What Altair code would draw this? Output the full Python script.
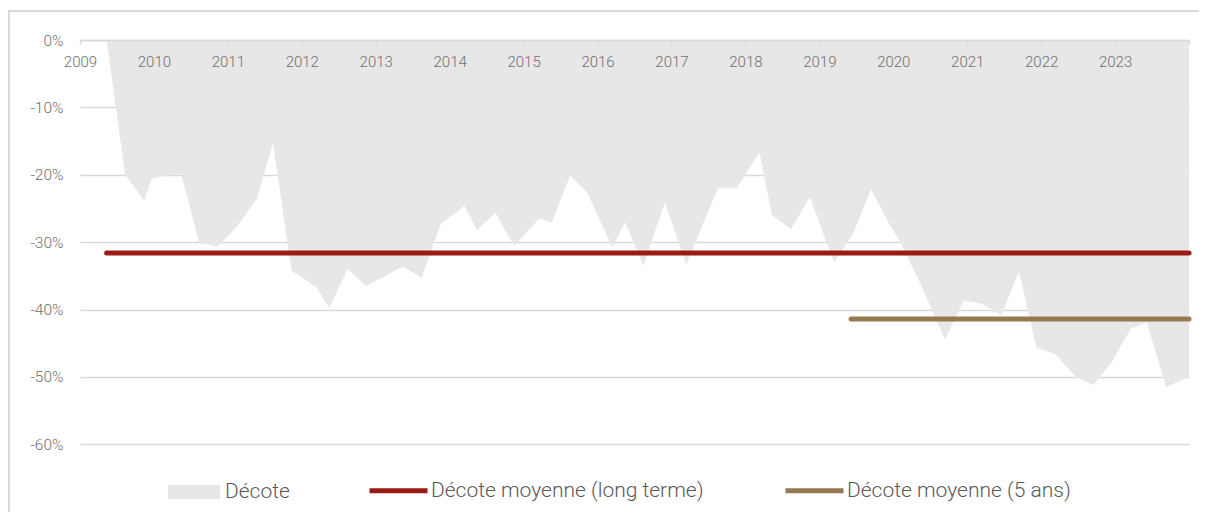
import altair as alt
import pandas as pd

# ---- data ----
years = [2009.36, 2009.61, 2009.87, 2009.97, 2010.17, 2010.37,
         2010.61, 2010.86, 2011.12, 2011.39, 2011.61,
         2011.86, 2012.20, 2012.37, 2012.62, 2012.87,
         2013.37, 2013.62, 2013.88, 2014.20, 2014.37,
         2014.62, 2014.87, 2015.21, 2015.38, 2015.63,
         2015.86, 2016.20, 2016.37, 2016.62, 2016.91,
         2017.20, 2017.63, 2017.88, 2018.19, 2018.36,
         2018.62, 2018.87, 2019.20, 2019.45, 2019.70,
         2019.94, 2020.09, 2020.36, 2020.70, 2020.95,
         2021.19, 2021.46, 2021.70, 2021.94, 2022.19,
         2022.46, 2022.70, 2022.96, 2023.21, 2023.43,
         2023.69, 2024.00]
decote = [0.0, -20.0, -23.8, -20.6, -20.1, -19.9,
          -30.0, -30.7, -27.7, -23.6, -15.3,
          -34.2, -36.7, -39.8, -34.0, -36.5,
          -33.6, -35.3, -27.3, -24.6, -28.2,
          -25.6, -30.6, -26.5, -27.1, -20.1,
          -22.6, -30.8, -27.0, -33.5, -24.1,
          -33.3, -22.0, -22.0, -16.7, -26.0,
          -28.1, -23.3, -33.0, -28.9, -22.2,
          -27.2, -29.9, -36.0, -44.5, -38.7,
          -39.1, -40.8, -34.4, -45.7, -46.6,
          -49.9, -51.2, -47.7, -42.9, -41.9,
          -51.5, -50.0]

mean_names = ["Décote moyenne (long terme)", "Décote moyenne (5 ans)"]
mean_start = [2009.36, 2019.43]
mean_end = [2024.0, 2024.0]
mean_value = [-31.6, -41.4]
mean_colors = ["#9a1a14", "#957a4f"]

area_name = "Décote"
area_color = "#e7e7e7"

y_ticks = [0, -10, -20, -30, -40, -50, -60]
x_ticks = list(range(2009, 2025))

W, H = 1109, 438
FONT = "Roboto"
GRID = "#d9d9d9"
LABEL = "#707070"

area_df = pd.DataFrame({"annee": years, "valeur": decote, "serie": area_name})
mean_df = pd.DataFrame({"nom": mean_names, "debut": mean_start,
                        "fin": mean_end, "valeur": mean_value})

x_scale = alt.Scale(domain=[2009, 2024], nice=False, zero=False)
y_scale = alt.Scale(domain=[-65, 0], nice=False)

area = alt.Chart(area_df).mark_area(opacity=1, interpolate="linear").encode(
    x=alt.X("annee:Q", scale=x_scale,
            axis=alt.Axis(orient="bottom", offset=-H, values=x_ticks,
                          labelExpr="datum.value >= 2024 ? '' : '' + datum.value",
                          title=None, grid=False, domain=True, domainColor=GRID,
                          domainWidth=1.5, ticks=True, tickColor=GRID, tickSize=4,
                          tickWidth=1.5, labelPadding=10, labelFont=FONT,
                          labelFontSize=15, labelFontWeight=300,
                          labelColor=LABEL, labelFlush=False,
                          labelOverlap=False, labelBound=False, zindex=1)),
    y=alt.Y("valeur:Q", scale=y_scale,
            axis=alt.Axis(values=y_ticks, title=None, domain=False, ticks=False,
                          grid=True, gridColor=GRID, gridWidth=1.5,
                          labelExpr="datum.value == 0 ? '0%' : '-' + abs(datum.value) + '%'",
                          labelPadding=17, labelFont=FONT, labelFontSize=15.5,
                          labelFontWeight=300,
                          labelColor=LABEL, labelOverlap=False)),
    color=alt.Color("serie:N",
                    scale=alt.Scale(domain=[area_name], range=[area_color]),
                    legend=alt.Legend(orient="none", legendX=88, legendY=426,
                                      title=None,
                                      symbolType="M-1,-0.27L1,-0.27L1,0.27L-1,0.27Z",
                                      symbolSize=2704, symbolOpacity=1,
                                      symbolStrokeWidth=0, labelOffset=5,
                                      labelFont=FONT, labelFontSize=21,
                                      labelFontWeight=300, labelColor="#595959",
                                      labelLimit=500)),
)

means = alt.Chart(mean_df).mark_rule(strokeWidth=5, strokeCap="round").encode(
    x=alt.X("debut:Q", scale=x_scale),
    x2="fin:Q",
    y=alt.Y("valeur:Q", scale=y_scale),
    stroke=alt.Stroke("nom:N",
                      scale=alt.Scale(domain=mean_names, range=mean_colors),
                      legend=alt.Legend(orient="none", legendX=287, legendY=419,
                                        direction="horizontal", columns=2,
                                        title=None, symbolType="stroke",
                                        symbolSize=3364, symbolStrokeWidth=5,
                                        columnPadding=71, labelOffset=1,
                                        labelFont=FONT, labelFontSize=21,
                                        labelFontWeight=300, labelColor="#595959",
                                        labelLimit=500)),
)

frame_left = alt.Chart(area_df).mark_rule(color=GRID, strokeWidth=1.5).encode(
    x=alt.value(-71.5), y=alt.value(-29), y2=alt.value(H + 40))
frame_top = alt.Chart(area_df).mark_rule(color=GRID, strokeWidth=1.5).encode(
    x=alt.value(-71.5), x2=alt.value(W + 10), y=alt.value(-29))

chart = alt.layer(area, means, frame_left, frame_top).resolve_scale(
    color="independent"
).properties(
    width=W, height=H,
    background="white",
    autosize=alt.AutoSizeParams(type="none"),
    padding={"left": 72, "top": 32, "right": 10, "bottom": 34},
).configure_view(strokeWidth=0, stroke="transparent")

chart.save("out.html", embed_options={"renderer": "svg", "actions": False})
